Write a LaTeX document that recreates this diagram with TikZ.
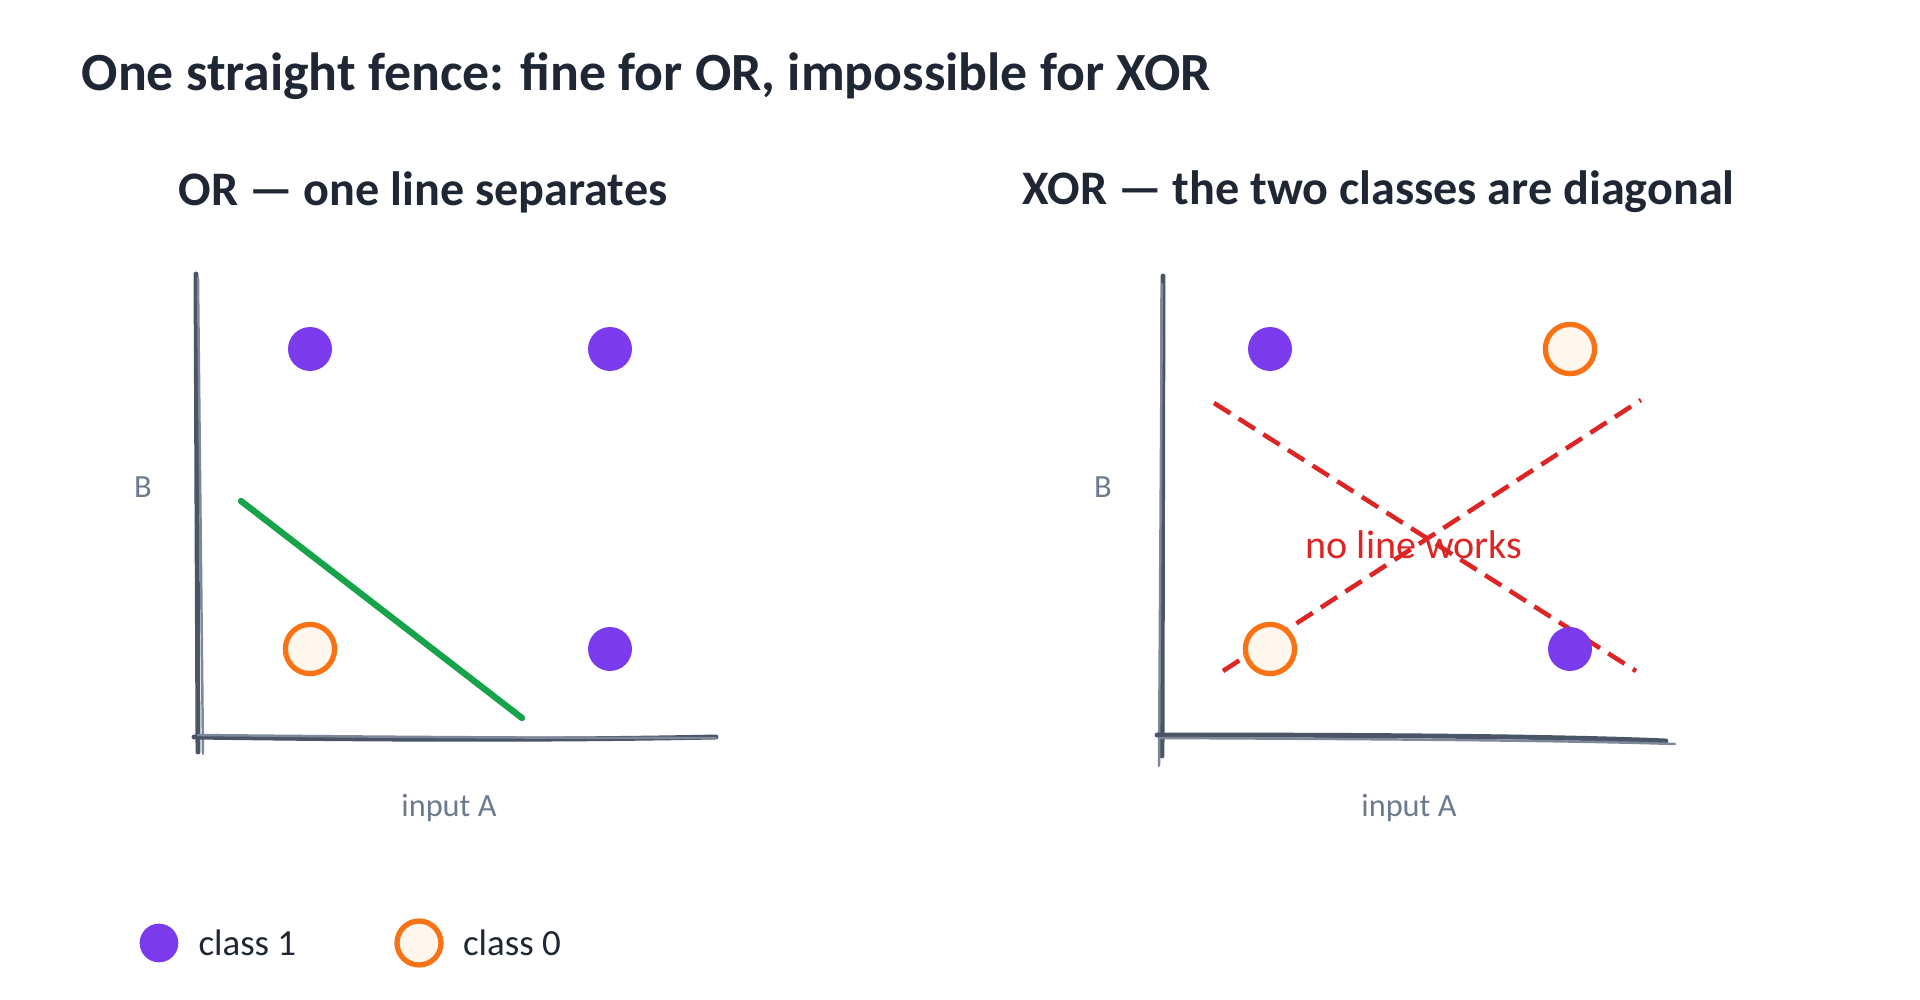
\documentclass[tikz,border=0pt]{standalone}
\usepackage{fontspec}
\setmainfont{Carlito}
\usetikzlibrary{positioning}

\definecolor{inkdark}{HTML}{1E2733}
\definecolor{axisgray}{HTML}{4A5568}
\definecolor{axislight}{HTML}{7D8899}
\definecolor{labelgray}{HTML}{6B7A90}
\definecolor{classone}{HTML}{7C3AED}
\definecolor{classzero}{HTML}{F97316}
\definecolor{zerofill}{HTML}{FFF7ED}
\definecolor{fencegreen}{HTML}{16A34A}
\definecolor{failred}{HTML}{DC2626}

\tikzset{
  onept/.style={circle, fill=classone, minimum size=12.5pt, inner sep=0pt},
  zeropt/.style={circle, draw=classzero, line width=1.5pt, fill=zerofill, minimum size=14pt, inner sep=0pt},
  axisline/.style={axisgray, line width=1.4pt, line cap=round},
  axisghost/.style={axislight, line width=0.7pt, line cap=round},
  axislabel/.style={text=labelgray, font=\fontsize{9.2}{11}\selectfont},
  heading/.style={text=inkdark, anchor=west, inner sep=0pt},
  keytext/.style={text=inkdark, font=\fontsize{10.5}{12}\selectfont},
  cutline/.style={failred, line width=1.3pt, dash pattern=on 5.5pt off 2.8pt},
}

\begin{document}
\begin{tikzpicture}[x=0.01cm, y=-0.01cm]
  \useasboundingbox (0,0) rectangle (1920,1000);

  % title
  \node[heading, font=\fontsize{15.3}{18}\selectfont\bfseries] (title) at (81,76)
    {One straight fence: fine for OR, impossible for XOR};

  % ---- OR panel ----
  \node[heading, font=\fontsize{13.7}{16}\selectfont\bfseries] (orhead) at (178,192)
    {OR — one line separates};

  \draw[axisline] (196,274) -- (198,752);
  \draw[axisghost] (198,278) -- (203,754);
  \draw[axisline] (194,737) .. controls (400,740) and (560,740) .. (716,737);
  \draw[axisghost] (198,735) .. controls (400,737) and (560,738) .. (716,738);

  \node[axislabel] (orb) at (143,487) {B};
  \node[axislabel] (ora) at (449,808) {input A};

  \node[onept] (or01) at (310,349) {};
  \node[onept] (or11) at (610,349) {};
  \node[zeropt] (or00) at (310,649) {};
  \node[onept] (or10) at (610,649) {};

  \coordinate (fencetop) at (241,501);
  \coordinate (fencebot) at (522,718);
  \draw[fencegreen, line width=1.8pt, line cap=round] (fencetop) -- (fencebot);

  % ---- XOR panel ----
  \node[heading, font=\fontsize{13.7}{16}\selectfont\bfseries] (xorhead) at (1022,192)
    {XOR — the two classes are diagonal};

  \draw[axisline] (1163,276) -- (1162,756);
  \draw[axisghost] (1162,284) -- (1159,766);
  \draw[axisline] (1157,735) .. controls (1350,735) and (1550,736) .. (1666,741);
  \draw[axisghost] (1160,738) .. controls (1350,739) and (1550,740) .. (1675,744);

  \node[axislabel] (xorb) at (1103,487) {B};
  \node[axislabel] (xora) at (1409,808) {input A};

  \coordinate (cutatop) at (1214,403);
  \coordinate (cutabot) at (1636,671);
  \coordinate (cutbbot) at (1223,671);
  \coordinate (cutbtop) at (1641,400);
  \draw[cutline] (cutatop) -- (cutabot);
  \draw[cutline] (cutbbot) -- (cutbtop);

  \node[onept] (xor01) at (1270,349) {};
  \node[zeropt] (xor11) at (1570,349) {};
  \node[zeropt] (xor00) at (1270,649) {};
  \node[onept] (xor10) at (1570,649) {};

  \node[text=failred, font=\fontsize{11.4}{13}\selectfont] (noline) at (1414,545) {no line works};

  % legend
  \node[onept, minimum size=11pt] (keyone) at (159,943) {};
  \node[keytext, right=2pt of keyone] (keyonetxt) {class 1};
  \node[zeropt, minimum size=12.5pt] (keyzero) at (419,943) {};
  \node[keytext, right=2pt of keyzero] (keyzerotxt) {class 0};
\end{tikzpicture}
\end{document}
